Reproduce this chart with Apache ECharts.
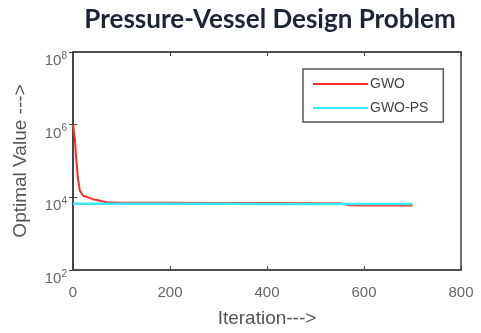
<!DOCTYPE html>
<html>
<head>
<meta charset="utf-8">
<script src="https://cdn.jsdelivr.net/npm/echarts@6/dist/echarts.min.js"></script>
<style>
  html, body { margin: 0; padding: 0; background: #fff; }
  #chart { width: 481px; height: 333px; }
</style>
</head>
<body>
<div id="chart"></div>
<script>
// data
const gwoIter = [0, 2, 4, 6, 7, 10, 14, 21, 31, 41, 52, 60, 70, 100, 200, 300, 400, 500, 550, 570, 600, 650, 700];
const gwoValue = [1000000, 950000, 400000, 150000, 100000, 35000, 15500, 11000, 10000, 8900, 8300, 7800, 7300, 7100, 7050, 7000, 6950, 6900, 6850, 6050, 6000, 6000, 6000];
const psIter = [0, 100, 200, 300, 400, 500, 600, 700];
const psValue = [6700, 6700, 6650, 6650, 6600, 6600, 6600, 6600];

const frameColor = '#444';
const labelColor = '#666';

const chart = echarts.init(document.getElementById('chart'));

const supLabel = (v) => {
  const e = Math.round(Math.log10(v));
  if (e % 2 !== 0) return '';
  return '{b|10}{s|' + e + '}';
};

const option = {
  animation: false,
  title: {
    text: 'Pressure-Vessel Design Problem',
    left: 265,
    textAlign: 'center',
    top: 2,
    textStyle: {
      fontFamily: 'Lato',
      fontWeight: 'bold',
      fontSize: 26,
      color: '#1c2436'
    }
  },
  grid: {
    left: 73,
    right: 20,
    top: 52,
    bottom: 59,
    show: true,
    borderColor: frameColor,
    borderWidth: 1.5
  },
  legend: {
    left: 303,
    top: 69,
    orient: 'vertical',
    itemWidth: 55,
    itemHeight: 10,
    itemGap: 10,
    padding: [8, 15, 7, 10],
    borderColor: '#555',
    borderWidth: 1.5,
    icon: 'path://M0,4 L55,4 L55,6 L0,6 Z',
    textStyle: { fontFamily: 'Liberation Sans', fontSize: 14, color: '#444', padding: [0, 0, 0, -3] },
    data: ['GWO', 'GWO-PS']
  },
  xAxis: [{
    type: 'value',
    min: 0,
    max: 800,
    interval: 200,
    name: 'Iteration--->',
    nameLocation: 'middle',
    nameGap: 39,
    nameTextStyle: { fontFamily: 'Liberation Sans', fontSize: 19, color: '#555' },
    axisLine: { show: true, lineStyle: { color: frameColor, width: 1.5 } },
    axisTick: { show: true, inside: true, length: 4, lineStyle: { color: frameColor } },
    axisLabel: { margin: 15, fontFamily: 'Liberation Sans', fontSize: 15, color: labelColor },
    splitLine: { show: false }
  }, {
    type: 'value',
    position: 'top',
    min: 0,
    max: 800,
    interval: 200,
    axisLine: { show: true, lineStyle: { color: frameColor, width: 1.5 } },
    axisTick: { show: true, inside: true, length: 4, lineStyle: { color: frameColor } },
    axisLabel: { show: false },
    splitLine: { show: false }
  }],
  yAxis: [{
    type: 'log',
    logBase: 10,
    min: 100,
    max: 100000000,
    interval: 2,
    name: 'Optimal Value --->',
    nameLocation: 'middle',
    nameGap: 43,
    nameTextStyle: { fontFamily: 'Liberation Sans', fontSize: 19, color: '#555' },
    axisLine: { show: true, lineStyle: { color: frameColor, width: 1.5 } },
    axisTick: { show: true, inside: true, length: 4, lineStyle: { color: frameColor } },
    axisLabel: {
      margin: 6,
      verticalAlign: 'top',
      padding: [-1, 0, 0, 0],
      formatter: supLabel,
      rich: {
        b: { fontFamily: 'Liberation Sans', fontSize: 15, color: labelColor },
        s: { fontFamily: 'Liberation Sans', fontSize: 10, color: labelColor, padding: [0, 0, 10, 0] }
      }
    },
    splitLine: { show: false }
  }, {
    type: 'log',
    logBase: 10,
    min: 100,
    max: 100000000,
    interval: 2,
    position: 'right',
    axisLine: { show: true, lineStyle: { color: frameColor, width: 1.5 } },
    axisTick: { show: true, inside: true, length: 4, lineStyle: { color: frameColor } },
    axisLabel: { show: false },
    splitLine: { show: false }
  }],
  series: [{
    name: 'GWO',
    type: 'line',
    showSymbol: false,
    color: '#ff2a2a',
    lineStyle: { width: 2 },
    data: gwoIter.map((x, i) => [x, gwoValue[i]])
  }, {
    name: 'GWO-PS',
    type: 'line',
    showSymbol: false,
    color: '#3ce8f0',
    lineStyle: { width: 2.5 },
    data: psIter.map((x, i) => [x, psValue[i]])
  }]
};

chart.setOption(option);
</script>
</body>
</html>
